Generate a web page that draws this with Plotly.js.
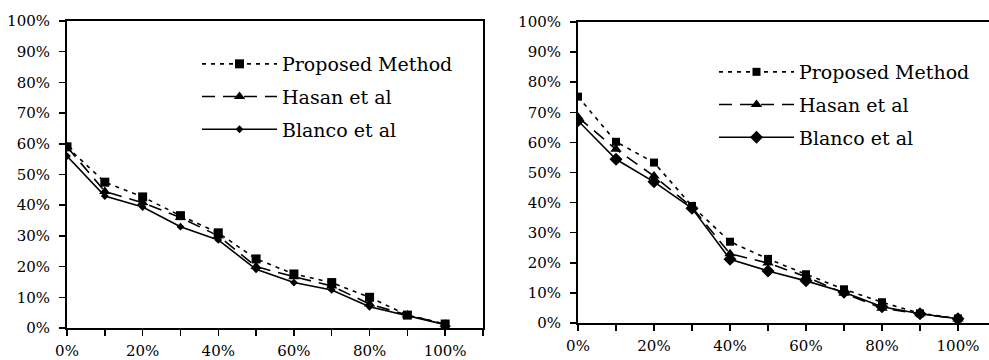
<!DOCTYPE html>
<html>
<head>
<meta charset="utf-8">
<script src="https://cdn.plot.ly/plotly-3.0.1.min.js"></script>
<style>html,body{margin:0;padding:0;background:#fff;}</style>
</head>
<body>
<div id="chart" style="width:989px;height:360px;"></div>
<script>
// ----- data -----
const xCats = [0, 0.1, 0.2, 0.3, 0.4, 0.5, 0.6, 0.7, 0.8, 0.9, 1.0];
const seriesNames = ["Proposed Method", "Hasan et al", "Blanco et al"];

// left chart
const leftProposed = [0.59, 0.475, 0.427, 0.366, 0.31, 0.225, 0.176, 0.148, 0.10, 0.042, 0.013];
const leftHasan    = [0.59, 0.445, 0.408, 0.36, 0.30, 0.20, 0.167, 0.137, 0.078, 0.042, 0.012];
const leftBlanco   = [0.56, 0.43, 0.394, 0.33, 0.287, 0.191, 0.148, 0.124, 0.069, 0.041, 0.011];

// right chart
const rightProposed = [0.752, 0.602, 0.533, 0.389, 0.27, 0.213, 0.162, 0.112, 0.069, 0.032, 0.015];
const rightHasan    = [0.684, 0.577, 0.488, 0.385, 0.23, 0.199, 0.154, 0.099, 0.049, 0.031, 0.013];
const rightBlanco   = [0.672, 0.544, 0.469, 0.381, 0.212, 0.173, 0.14, 0.102, 0.054, 0.031, 0.014];

// tick labels
const xTickVals = [0, 0.1, 0.2, 0.3, 0.4, 0.5, 0.6, 0.7, 0.8, 0.9, 1.0, 1.1];
const xTickText = ["0%", "", "20%", "", "40%", "", "60%", "", "80%", "", "100%", ""];
const yTickVals = [0, 0.1, 0.2, 0.3, 0.4, 0.5, 0.6, 0.7, 0.8, 0.9, 1.0];
const yTickText = ["0%", "10%", "20%", "30%", "40%", "50%", "60%", "70%", "80%", "90%", "100%"];

// ----- styles -----
const FONT = "DejaVu Serif";
const dashStyles = ["4px,5px", "13px,8px", "solid"];
const symbols = ["square", "triangle-up", "diamond"];
const sizesLeft = [9, 10, 6];
const sizesRight = [8, 10, 10];

function mk(y, i, xa, ya, leg, sizes) {
  return {
    x: xCats, y: y, xaxis: xa, yaxis: ya, type: "scatter", mode: "lines+markers",
    name: seriesNames[i], legend: leg, legendgroup: leg + i,
    line: {color: "#000", width: 1.6, dash: dashStyles[i]},
    marker: {symbol: symbols[i], size: sizes[i], color: "#000", line: {width: 0}},
    hoverinfo: "skip"
  };
}

const traces = [
  mk(leftProposed, 0, "x", "y", "legend", sizesLeft),
  mk(leftHasan, 1, "x", "y", "legend", sizesLeft),
  mk(leftBlanco, 2, "x", "y", "legend", sizesLeft),
  mk(rightProposed, 0, "x2", "y2", "legend2", sizesRight),
  mk(rightHasan, 1, "x2", "y2", "legend2", sizesRight),
  mk(rightBlanco, 2, "x2", "y2", "legend2", sizesRight)
];

const W = 989, H = 360;
function xAxis(d0, d1, rEnd, anchor) {
  return {
    domain: [d0 / W, d1 / W], range: [0, rEnd], anchor: anchor,
    showgrid: false, zeroline: false, showline: true, linecolor: "#000", linewidth: 2,
    mirror: true, ticks: "outside", ticklen: 6, tickwidth: 1.5, tickcolor: "#000",
    tickvals: xTickVals, ticktext: xTickText, ticklabelstandoff: 2,
    tickfont: {family: FONT, size: 15, color: "#000"}, fixedrange: true
  };
}
function yAxis(top, bottom, anchor, mirror) {
  return {
    domain: [(H - bottom) / H, (H - top) / H], range: [0, 1], anchor: anchor,
    showgrid: false, zeroline: false, showline: true, linecolor: "#000", linewidth: 2,
    mirror: mirror, ticks: "outside", ticklen: 6, tickwidth: 1.5, tickcolor: "#000",
    tickvals: yTickVals, ticktext: yTickText, ticklabelstandoff: 6,
    tickfont: {family: FONT, size: 15, color: "#000"}, fixedrange: true
  };
}
function legend(x, y) {
  return {
    x: x / W, y: 1 - y / H, xref: "paper", yref: "paper", xanchor: "left", yanchor: "top",
    bgcolor: "rgba(0,0,0,0)", borderwidth: 0, itemwidth: 75,
    traceorder: "grouped", tracegroupgap: 5,
    font: {family: FONT, size: 19, color: "#000"}, itemclick: false, itemdoubleclick: false
  };
}

const layout = {
  width: W, height: H, margin: {l: 0, r: 0, t: 0, b: 0},
  font: {family: FONT},
  paper_bgcolor: "#fff", plot_bgcolor: "#fff", showlegend: true, hovermode: false,
  xaxis: xAxis(67, 483, 1.1, "y"),
  yaxis: yAxis(21, 328, "x", true),
  xaxis2: xAxis(578, 989, 1.0816, "y2"),
  yaxis2: yAxis(22, 323, "x2", false),
  legend: legend(197, 45),
  legend2: legend(714, 53)
};

Plotly.newPlot("chart", traces, layout, {displayModeBar: false, staticPlot: true});
</script>
</body>
</html>
